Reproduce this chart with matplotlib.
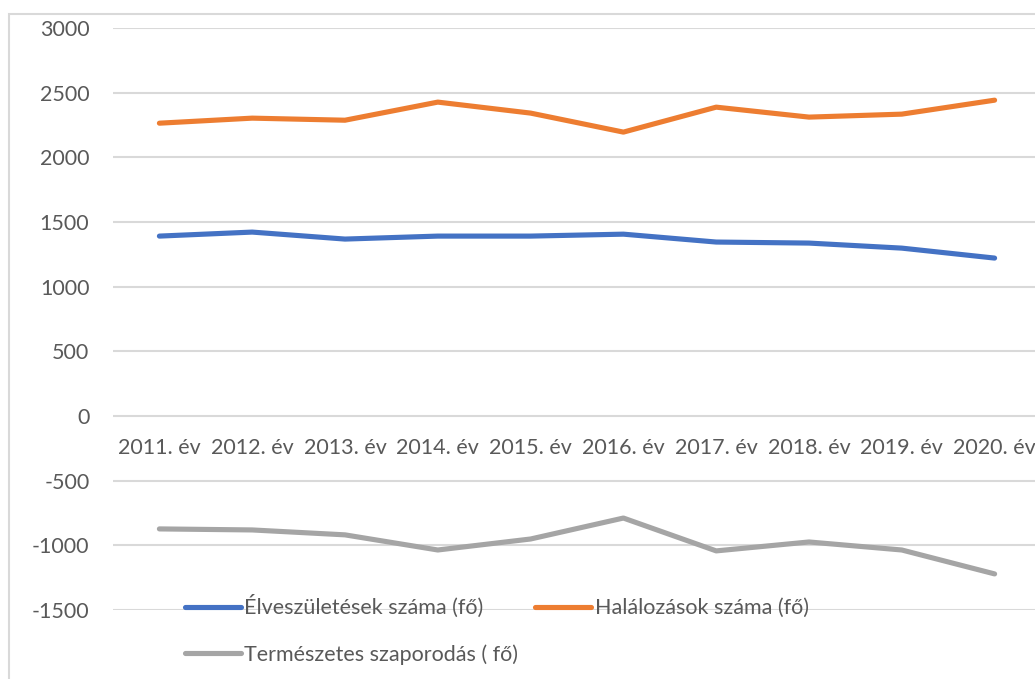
import matplotlib
matplotlib.use("Agg")
import matplotlib.pyplot as plt
from matplotlib.patches import Rectangle

years = ["2011. év", "2012. év", "2013. év", "2014. év", "2015. év",
         "2016. év", "2017. év", "2018. év", "2019. év", "2020. év"]
births = [1391, 1422, 1368, 1391, 1391, 1406, 1345, 1337, 1298, 1221]
deaths = [2264, 2303, 2287, 2427, 2342, 2195, 2388, 2311, 2334, 2442]
natural = [-873, -881, -919, -1036, -951, -789, -1043, -974, -1036, -1221]
yticks = [-1500, -1000, -500, 0, 500, 1000, 1500, 2000, 2500, 3000]

W, H = 1035, 679
FS = 15.5
plt.rcParams['font.family'] = ['Lato', 'DejaVu Sans']
fig = plt.figure(figsize=(W / 100, H / 100), dpi=100)
fig.patch.set_facecolor('white')

# chart border
fig.patches.append(Rectangle((9 / W, -0.1), 1.2, (H - 14) / H + 0.1,
                             transform=fig.transFigure, fill=False,
                             edgecolor='#D9D9D9', linewidth=1.5))

left = 113 / W
right = 1041 / W
bottom = (H - 610) / H
top = (H - 28) / H
ax = fig.add_axes([left, bottom, right - left, top - bottom])
ax.set_facecolor('none')

x = list(range(len(years)))
lw = 3.7
l1, = ax.plot(x, births, color='#4472C4', lw=lw, solid_capstyle='round',
              label='Élveszületések száma (fő)')
l2, = ax.plot(x, deaths, color='#ED7D31', lw=lw, solid_capstyle='round',
              label='Halálozások száma (fő)')
l3, = ax.plot(x, natural, color='#A5A5A5', lw=lw, solid_capstyle='round',
              label='Természetes szaporodás ( fő)')

ax.set_xlim(-0.5, len(years) - 0.5)
ax.set_ylim(-1500, 3000)
ax.set_yticks(yticks)
ax.set_yticklabels([str(v) for v in yticks])
ax.yaxis.grid(True, color='#D9D9D9', linewidth=1.5)
ax.set_axisbelow(True)
for s in ['top', 'right', 'left']:
    ax.spines[s].set_visible(False)
ax.spines['bottom'].set_position(('data', 0))
ax.spines['bottom'].set_visible(False)
ax.set_xticks(x)
ax.set_xticklabels(years)
ax.tick_params(axis='x', length=0, pad=16, labelsize=FS, labelcolor='#595959')
ax.tick_params(axis='y', length=0, pad=17, labelsize=FS, labelcolor='#595959')

leg = fig.legend([l1, l3, l2], [l1.get_label(), l3.get_label(), l2.get_label()],
                 ncol=2, loc='upper left',
                 bbox_to_anchor=(185 / W, (H - 595) / H),
                 frameon=False, fontsize=FS, handlelength=2.6,
                 handletextpad=0.15, columnspacing=0.8, labelspacing=1.2,
                 borderaxespad=0, borderpad=0)
for t in leg.get_texts():
    t.set_color('#595959')

fig.savefig('out.png', dpi=100)
